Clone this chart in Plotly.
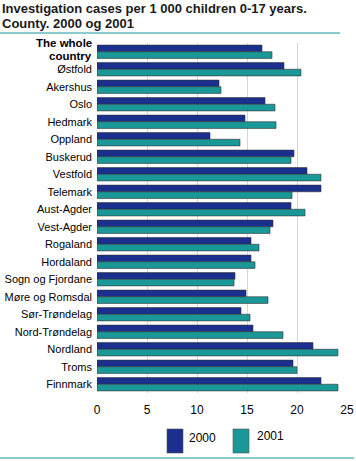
import plotly.graph_objects as go

categories = ["The whole country", "Østfold", "Akershus", "Oslo", "Hedmark", "Oppland",
              "Buskerud", "Vestfold", "Telemark", "Aust-Agder", "Vest-Agder", "Rogaland",
              "Hordaland", "Sogn og Fjordane", "Møre og Romsdal", "Sør-Trøndelag",
              "Nord-Trøndelag", "Nordland", "Troms", "Finnmark"]
v2000 = [16.5, 18.7, 12.2, 16.8, 14.8, 11.3, 19.7, 21.0, 22.4, 19.4, 17.6, 15.4,
         15.4, 13.8, 14.9, 14.4, 15.6, 21.6, 19.6, 22.4]
v2001 = [17.5, 20.4, 12.4, 17.8, 17.9, 14.3, 19.4, 22.4, 19.5, 20.8, 17.3, 16.2,
         15.8, 13.7, 17.1, 15.3, 18.6, 24.1, 20.0, 24.1]
series_names = ["2000", "2001"]
colors = ["#1b2f8e", "#1a9898"]
xticks = [0, 5, 10, 15, 20, 25]
title_lines = ["Investigation cases per 1 000 children 0-17 years.", "County. 2000 og 2001"]
total_label_lines = ["The whole", "country"]

W, H = 356, 461
L, R, T, B = 97, 9, 43, 68
pw, ph = W - L - R, H - T - B

def px(x):
    return (x - L) / pw

def py(y):
    return 1 - (y - T) / ph

FONT = "Liberation Sans"

fig = go.Figure()
for name, vals, c in zip(series_names, [v2000, v2001], colors):
    fig.add_trace(go.Bar(y=categories, x=vals, name=name, orientation="h",
                         marker=dict(color=c, line=dict(color="#333333", width=0.6)),
                         showlegend=False))

ticktext = [""] + categories[1:]

fig.update_layout(
    width=W, height=H,
    margin=dict(l=L, r=R, t=T, b=B),
    paper_bgcolor="white", plot_bgcolor="white",
    barmode="group", bargap=0.24, bargroupgap=0.0,
    font=dict(family=FONT, size=12, color="#000000"),
    xaxis=dict(range=[0, 25], tickvals=xticks, showgrid=True, gridcolor="#d6d6d6",
               gridwidth=1, zeroline=False, showline=False, ticks="",
               tickfont=dict(size=12), fixedrange=True, automargin=False,
               ticklabelstandoff=8),
    yaxis=dict(autorange="reversed", showgrid=False, ticks="", showline=False,
               tickmode="array", tickvals=categories, ticktext=ticktext,
               tickfont=dict(size=11), automargin=False, ticklabelstandoff=4),
)

# Title (two lines)
for i, line in enumerate(title_lines):
    fig.add_annotation(text="<b>" + line + "</b>",
                       xref="paper", yref="paper", x=px(1), y=py(8.5 + 15 * i),
                       xanchor="left", yanchor="middle", showarrow=False, align="left",
                       borderpad=0,
                       font=dict(size=13, family=FONT, color="#1a1a1a"))

# Bold two-line label for the national total
for i, line in enumerate(total_label_lines):
    fig.add_annotation(text="<b>" + line + "</b>",
                       xref="paper", yref="paper", x=px(93), y=py(43 + 13 * i),
                       xanchor="right", yanchor="middle", showarrow=False, align="right",
                       borderpad=0,
                       font=dict(size=11.5, family=FONT, color="#000000"))

# Teal rules
fig.add_shape(type="line", xref="paper", yref="paper", x0=px(0), x1=px(340), y0=py(33), y1=py(33),
              line=dict(color="#1a9898", width=1.2))
fig.add_shape(type="line", xref="paper", yref="paper", x0=px(0), x1=px(354), y0=py(458), y1=py(458),
              line=dict(color="#1a9898", width=1.2))

# Legend (manual)
leg = [(167, 187, 438), (233, 255, 436)]
for (bx, tx, ty), name, c in zip(leg, series_names, colors):
    fig.add_shape(type="rect", xref="paper", yref="paper", x0=px(bx), x1=px(bx + 16),
                  y0=py(429), y1=py(453), fillcolor=c, line=dict(color="#555555", width=0.6))
    fig.add_annotation(text=name, xref="paper", yref="paper", x=px(tx), y=py(ty),
                       xanchor="left", yanchor="middle", showarrow=False,
                       font=dict(size=12, family=FONT))

fig.write_html("out.html", config={"displayModeBar": False},
               post_script="document.body.style.margin='0';document.body.style.padding='0';")
